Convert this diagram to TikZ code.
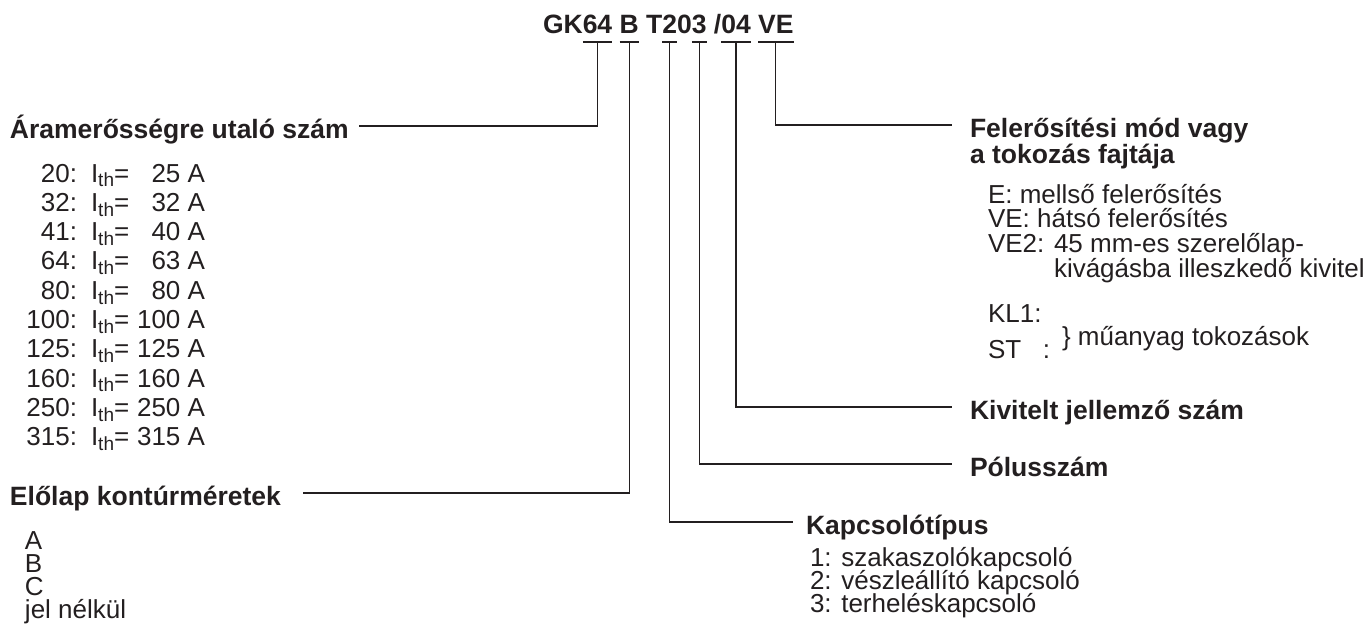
\documentclass[tikz,border=0pt]{standalone}
\usepackage{fontspec}
\setmainfont{Liberation Sans}
\usepackage{tikz}
\usetikzlibrary{positioning, calc}
\definecolor{ink}{HTML}{231F20}
\newcommand{\Ith}{I\raisebox{-0.35ex}{\fontsize{9.5}{10}\selectfont th}=}

\begin{document}
\begin{tikzpicture}[x=0.5pt, y=-0.5pt,
  every node/.style={inner sep=0pt, outer sep=0pt, text=ink},
  title/.style={font=\fontsize{13.25}{15}\selectfont\bfseries, anchor=base west},
  head/.style={font=\fontsize{13.25}{15}\selectfont\bfseries, anchor=base west},
  body/.style={font=\fontsize{13}{15}\selectfont, anchor=base west},
  conn/.style={draw=ink, line width=0.6pt},
  uline/.style={draw=ink, line width=1.3pt}]
  \useasboundingbox (0,0) rectangle (1370,639);

  % Type code, one node per underlined part
  \def\tsp{3.7pt}
  \node[title] (gk) at (543,33) {GK};
  \node[title] (n64) at (gk.base east) {64};
  \node[title] (nB) at ([xshift=\tsp]n64.base east) {B};
  \node[title] (nT) at ([xshift=\tsp]nB.base east) {T};
  \node[title] (n2) at (nT.base east) {2};
  \node[title] (n0) at (n2.base east) {0};
  \node[title] (n3) at (n0.base east) {3};
  \node[title] (nsl) at ([xshift=\tsp]n3.base east) {/};
  \node[title] (n04) at (nsl.base east) {04};
  \node[title] (nVE) at ([xshift=\tsp]n04.base east) {VE};

  % Underlines and the start points of the leaders
  \foreach \s in {n64,nB,n2,n3,n04,nVE}{
    \draw[uline] ([yshift=-4.5pt]\s.base west) -- ([yshift=-4.5pt]\s.base east);
    \coordinate (u\s) at ([yshift=-4.5pt]\s.base);
  }

  % Headings
  \node[head] (hAram) at (10,138) {Áramerősségre utaló szám};
  \node[head] (hElo) at (10,505) {Előlap kontúrméretek};
  \node[head] (hKap) at (806,534) {Kapcsolótípus};
  \node[head] (hPol) at (970,476) {Pólusszám};
  \node[head] (hKiv) at (970,419) {Kivitelt jellemző szám};
  \node[head] (hFel) at (970,137) {Felerősítési mód vagy};
  \node[head] (hFel2) at (970,163) {a tokozás fajtája};

  % Leaders
  \draw[conn] (un64) |- ([xshift=5pt,yshift=6pt]hAram.base east);
  \draw[conn] (unB) |- ([xshift=11pt,yshift=6pt]hElo.base east);
  \draw[conn] (un2) |- ([xshift=-6.5pt,yshift=6pt]hKap.base west);
  \draw[conn] (un3) |- ([xshift=-9pt,yshift=6pt]hPol.base west);
  \draw[conn] (un04) |- ([xshift=-9pt,yshift=6pt]hKiv.base west);
  \draw[conn] (unVE) |- ([xshift=-9pt,yshift=6pt]hFel.base west);

  % Current ratings
  \foreach \code/\amp [count=\i from 0] in {20/25, 32/32, 41/40, 64/63, 80/80,
      100/100, 125/125, 160/160, 250/250, 315/315}{
    \node[body, anchor=base east] (rc\i) at (77,182+29.3*\i) {\code:};
    \node[body] (ri\i) at (91,182+29.3*\i) {\Ith};
    \node[body, anchor=base east] (rv\i) at (205,182+29.3*\i) {\amp\ A};
  }

  % Front plate sizes
  \foreach \t [count=\i from 0] in {A, B, C, jel nélkül}
    \node[body] (pl\i) at (25,549+23*\i) {\t};

  % Switch types
  \foreach \t [count=\i from 0] in {1: szakaszolókapcsoló, 2: vészleállító kapcsoló, 3: terheléskapcsoló}
    \node[body] (sw\i) at (810,566+23*\i) {\t};

  % Mounting
  \foreach \t [count=\i from 0] in {E: mellső felerősítés, VE: hátsó felerősítés, VE2: 45 mm-es szerelőlap-}
    \node[body] (mt\i) at (988,203+24.6*\i) {\t};
  \node[body] (mt3) at (988,277) {\hphantom{VE2: }kivágásba illeszkedő kivitel};
  \node[body] (kl) at (988,322) {KL1:};
  \node[body] (st) at (988,358) {ST\hphantom{L1}\llap{:}};
  \node[body] (mu) at (1062,345) {\}\ műanyag tokozások};
\end{tikzpicture}
\end{document}
